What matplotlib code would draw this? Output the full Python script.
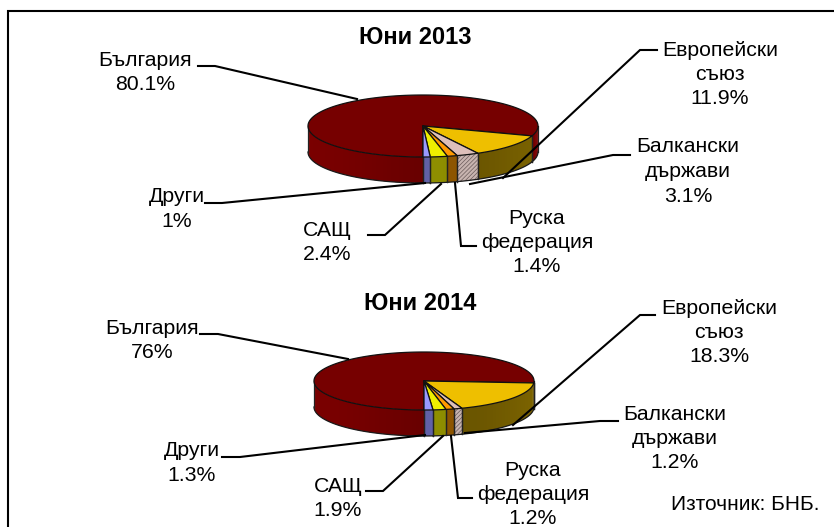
import numpy as np
import matplotlib
matplotlib.use("Agg")
import matplotlib.pyplot as plt
from matplotlib.patches import Polygon

plt.rcParams['font.family'] = ['Liberation Sans', 'DejaVu Sans']
plt.rcParams['hatch.linewidth'] = 0.5

categories = ['България', 'Европейски\nсъюз', 'Балкански\nдържави', 'Руска\nфедерация', 'САЩ', 'Други']
values_2013 = [80.1, 11.9, 3.1, 1.4, 2.4, 1.0]
values_2014 = [76.0, 18.3, 1.2, 1.2, 1.9, 1.3]
labels_2013 = ['80.1%', '11.9%', '3.1%', '1.4%', '2.4%', '1%']
labels_2014 = ['76%', '18.3%', '1.2%', '1.2%', '1.9%', '1.3%']
top_colors = ['#760000', '#EEBF00', '#DDBFBA', '#FF9900', '#EEEE00', '#9999FF']
side_colors = ['#7A0000', '#7E6500', '#A08C88', '#A86500', '#A8A800', '#7272C4']

W, H = 834, 527
fig = plt.figure(figsize=(W / 100, H / 100), dpi=100)
ax = fig.add_axes([0, 0, 1, 1])
ax.set_xlim(0, W)
ax.set_ylim(H, 0)
ax.axis('off')

# frame: only the top and left edges fall inside the picture
ax.plot([8, 8, W], [H, 11, 11], color='black', lw=1.5, solid_joinstyle='miter', zorder=1)


def shade(col, f):
    r, g, b = matplotlib.colors.to_rgb(col)
    return (r * f, g * f, b * f)


def pie3d(values, cx, cy, rx, ry, depth):
    v = np.array(values, float)
    frac = v / v.sum()
    start = -90.0
    ends = start - np.cumsum(frac) * 360
    starts = np.r_[start, ends[:-1]]
    ell = lambda a: (cx + rx * np.cos(np.radians(a)), cy - ry * np.sin(np.radians(a)))
    for i, (a0, a1) in enumerate(zip(starts, ends)):
        for k in (0, 360, -360, -720):
            lo, hi = max(a1 + k, -180), min(a0 + k, 0)
            if lo >= hi:
                continue
            n = max(2, int((hi - lo) / 2) + 1)
            edges = np.linspace(lo, hi, n)
            for e0, e1 in zip(edges[:-1], edges[1:]):
                x0, y0 = ell(e0)
                x1, y1 = ell(min(e1 + 1.5, hi))
                m = (e0 + e1) / 2
                f = 1.0 - 0.16 * np.exp(-((m + 75) / 45) ** 2)
                ax.add_patch(Polygon([(x0, y0), (x1, y1), (x1, y1 + depth), (x0, y0 + depth)],
                                     closed=True, fc=shade(side_colors[i], f), ec='none', zorder=2))
            xa = np.radians(np.linspace(lo, hi, 60))
            xs = cx + rx * np.cos(xa)
            ys = cy - ry * np.sin(xa)
            if i == 2:
                ax.add_patch(Polygon(list(zip(xs, ys)) + list(zip(xs[::-1], ys[::-1] + depth)), closed=True,
                                     fc='#C8B4B0', ec='#6a5a5a', hatch='////////', lw=0, zorder=2.5))
            ax.plot(xs, ys + depth, color='#1a1a1a', lw=0.9, zorder=3)
            ax.plot([xs[0]] * 2, [ys[0], ys[0] + depth], color='#222222', lw=0.9, zorder=3)
            ax.plot([xs[-1]] * 2, [ys[-1], ys[-1] + depth], color='#222222', lw=0.9, zorder=3)
    for i, (a0, a1) in enumerate(zip(starts, ends)):
        t = np.radians(np.linspace(a0, a1, max(3, int(abs(a1 - a0)) + 2)))
        pts = [(cx, cy)] + list(zip(cx + rx * np.cos(t), cy - ry * np.sin(t)))
        ax.add_patch(Polygon(pts, closed=True, fc=top_colors[i], ec='#111111', lw=0.9, zorder=4,
                             joinstyle='round'))


pie3d(values_2013, 423, 126, 115, 31, 26)
pie3d(values_2014, 424, 381, 110, 29, 26)

fs = 15.3
lh = 24.5
layout_2013 = [
    (145, 60, [(198, 66), (215, 66), (357, 99)]),
    (720, 50, [(657, 50), (640, 50), (503, 178)]),
    (688, 147, [(630, 155), (613, 155), (470, 184)]),
    (537, 218, [(476, 246), (461, 246), (455, 183)]),
    (327, 230, [(368, 235), (385, 235), (441, 184)]),
    (177, 197, [(205, 203), (222, 203), (425, 183)]),
]
layout_2014 = [
    (152, 328, [(200, 334), (218, 334), (348, 359)]),
    (719, 308, [(655, 315), (640, 315), (513, 425)]),
    (675, 414, [(618, 421), (600, 421), (465, 433)]),
    (533, 470, [(472, 498), (458, 498), (451, 436)]),
    (338, 486, [(366, 491), (383, 491), (443, 436)]),
    (192, 451, [(222, 457), (240, 457), (425, 435)]),
]


def labels(layout, pct):
    for (x, y, line), cat, p in zip(layout, categories, pct):
        xs, ys = zip(*line)
        ax.plot(xs, ys, color='black', lw=1.5, zorder=5, solid_joinstyle='miter')
        rows = cat.split('\n') + [p]
        for j, r in enumerate(rows):
            ax.text(x, y + j * lh, r, ha='center', va='center', fontsize=fs, color='black', zorder=6)


labels(layout_2013, labels_2013)
labels(layout_2014, labels_2014)

ax.text(415, 37, 'Юни 2013', ha='center', va='center', fontsize=17, fontweight='bold')
ax.text(420, 304, 'Юни 2014', ha='center', va='center', fontsize=17, fontweight='bold')
ax.text(745, 505, 'Източник: БНБ.', ha='center', va='center', fontsize=15)

fig.savefig('out.png', dpi=100, facecolor='white')
